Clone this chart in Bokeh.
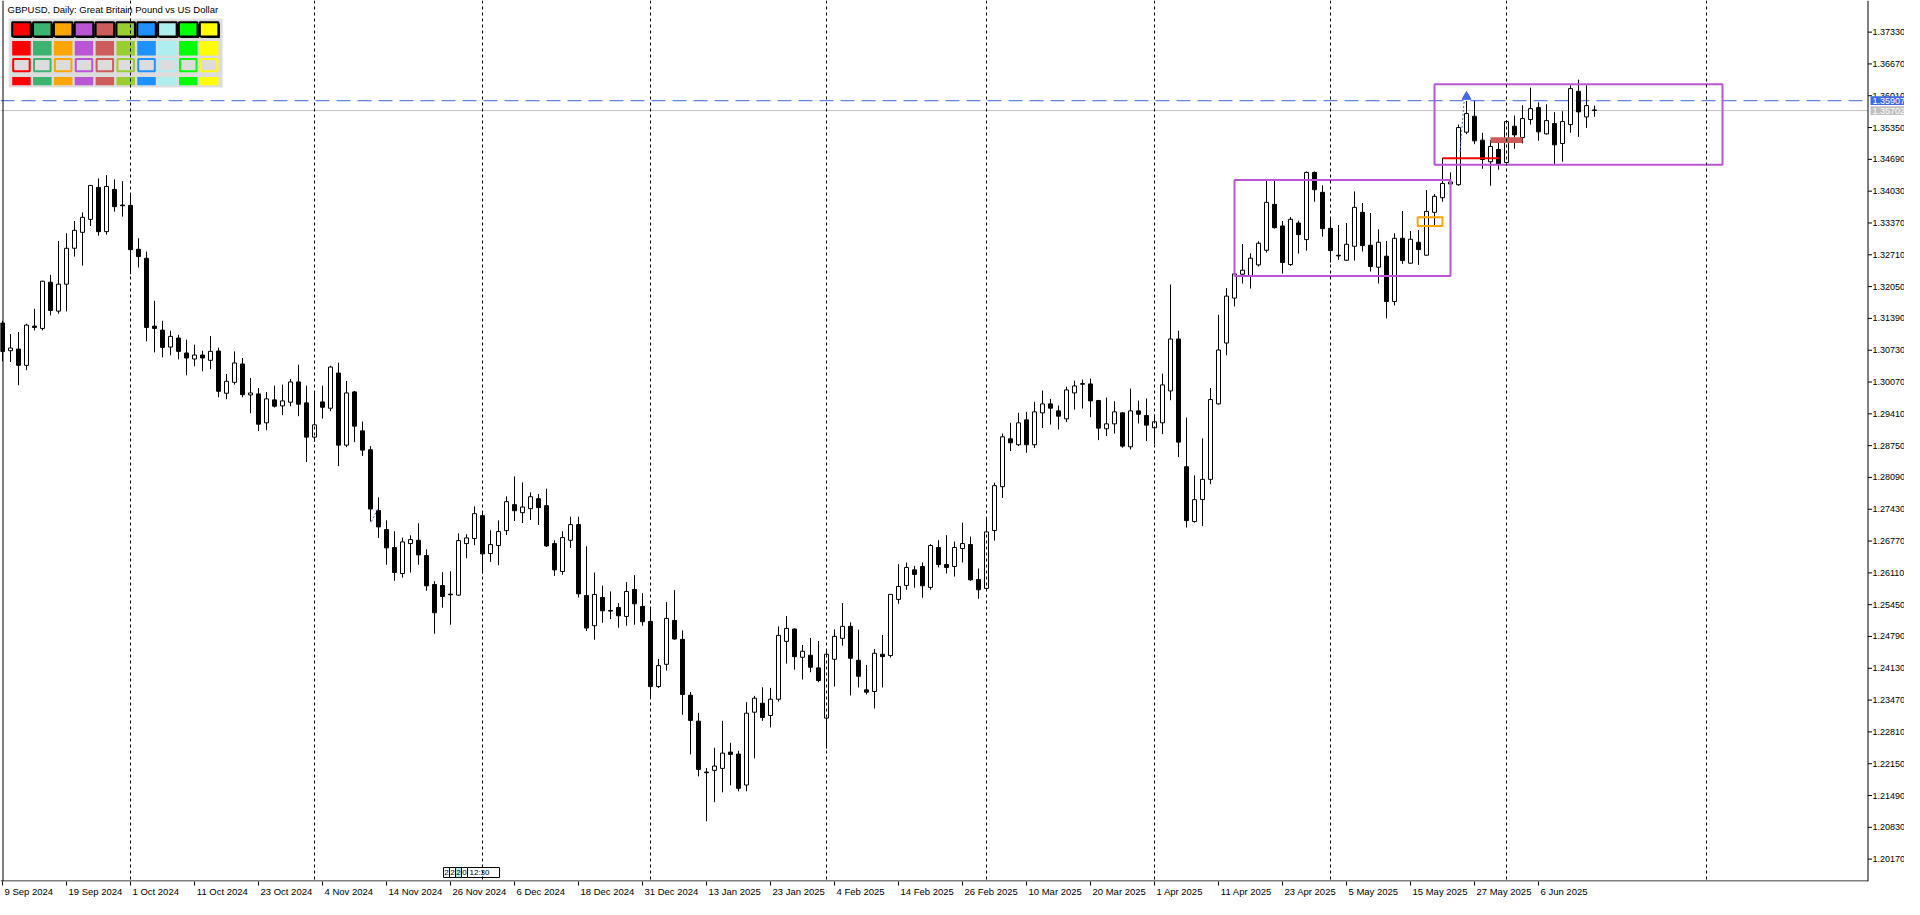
import numpy as np
from bokeh.plotting import figure
from bokeh.models import Range1d, FixedTicker, Span
from bokeh.core.properties import value
from bokeh.embed import file_html
from bokeh.resources import INLINE

FONT = "Liberation Sans"

# ---------------- data (GBPUSD daily) ----------------
opens = [1.31292,1.30720,1.30754,1.30416,1.31230,1.31182,1.32141,1.31541,1.32100,1.32845,
         1.33176,1.33445,1.34108,1.33190,1.34066,1.33742,1.33735,1.32824,1.32638,1.31230,
         1.31147,1.30796,1.30982,1.30672,1.30547,1.30630,1.30520,1.30713,1.29837,1.30064,
         1.30444,1.29802,1.29823,1.29223,1.29699,1.29575,1.29651,1.30071,1.29637,1.28926,
         1.29657,1.29526,1.30257,1.28760,1.29864,1.29057,1.28664,1.27401,1.27008,1.26635,
         1.26096,1.26717,1.26786,1.26469,1.25869,1.25848,1.25668,1.25648,1.26717,1.26821,
         1.27297,1.26510,1.26676,1.26986,1.27525,1.27359,1.27442,1.27649,1.27504,1.26717,
         1.26138,1.26786,1.27111,1.25641,1.25013,1.25599,1.25330,1.25392,1.25206,1.25765,
         1.25413,1.25103,1.23750,1.24213,1.25123,1.24730,1.23571,1.23033,1.21977,1.22012,
         1.22053,1.22391,1.22350,1.21708,1.23219,1.23405,1.23150,1.23488,1.24689,1.24944,
         1.24358,1.24400,1.24138,1.23096,1.24317,1.24752,1.25000,1.24296,1.23682,1.23648,
         1.24421,1.24393,1.25559,1.25849,1.26173,1.26242,1.25808,1.26636,1.26283,1.26242,
         1.26615,1.26698,1.25973,1.25787,1.26987,1.27898,1.28892,1.28768,1.29285,1.28768,
         1.29430,1.29616,1.29471,1.29306,1.29844,1.30023,1.30030,1.29685,1.29099,1.29202,
         1.29430,1.28726,1.29471,1.29375,1.29120,1.29223,1.29885,1.30962,1.28312,1.27174,
         1.27630,1.28050,1.29616,1.30879,1.31811,1.32307,1.32280,1.32500,1.32804,1.33756,
         1.33308,1.32507,1.33370,1.33025,1.34419,1.34005,1.33259,1.32701,1.32597,1.32887,
         1.33591,1.32908,1.32452,1.32680,1.31741,1.33052,1.32535,1.32970,1.32701,1.33591,
         1.33894,1.34180,1.34164,1.35254,1.35585,1.35088,1.34640,1.34895,1.34626,1.35378,
         1.35143,1.35516,1.35764,1.35219,1.35433,1.35019,1.35412,1.36102,1.35571,1.35716]
highs = [1.31340,1.31065,1.31106,1.31279,1.31589,1.32169,1.32293,1.32997,1.33156,1.33411,
         1.33590,1.34156,1.34294,1.34363,1.34273,1.34239,1.33963,1.33052,1.32776,1.31755,
         1.31341,1.31134,1.31051,1.30948,1.30844,1.30720,1.31023,1.30782,1.30237,1.30706,
         1.30568,1.30154,1.29947,1.29864,1.29995,1.30016,1.30133,1.30430,1.29995,1.29864,
         1.29995,1.30409,1.30471,1.30092,1.29885,1.29250,1.28740,1.27677,1.27201,1.26973,
         1.26842,1.26890,1.27138,1.26600,1.25938,1.26124,1.26145,1.26931,1.26910,1.27490,
         1.27380,1.26993,1.27200,1.27697,1.28111,1.27987,1.27780,1.27745,1.27856,1.26786,
         1.26973,1.27276,1.27276,1.26662,1.26117,1.25848,1.25724,1.25482,1.25917,1.26062,
         1.25689,1.25392,1.24323,1.25503,1.25751,1.24916,1.23640,1.23205,1.22060,1.22481,
         1.23040,1.22584,1.22419,1.23426,1.23557,1.23736,1.23723,1.24999,1.25213,1.24958,
         1.24614,1.24759,1.24697,1.24531,1.24938,1.25483,1.25083,1.24931,1.24200,1.24531,
         1.24821,1.25670,1.26290,1.26325,1.26256,1.26325,1.26705,1.26787,1.26891,1.26760,
         1.27153,1.26863,1.26201,1.27257,1.27981,1.29002,1.29223,1.29430,1.29451,1.29658,
         1.29892,1.29720,1.29582,1.29975,1.30099,1.30120,1.30141,1.29699,1.29747,1.29672,
         1.29444,1.29934,1.29685,1.29727,1.29396,1.30244,1.32093,1.31134,1.29333,1.28133,
         1.28900,1.29947,1.31465,1.32018,1.32321,1.32935,1.32742,1.32990,1.34246,1.34246,
         1.33411,1.33494,1.33418,1.34439,1.34439,1.34150,1.33466,1.33328,1.33370,1.34025,
         1.33784,1.33577,1.33239,1.32997,1.33156,1.33618,1.33204,1.33225,1.34053,1.33970,
         1.34716,1.34419,1.35412,1.35902,1.35902,1.35240,1.35088,1.35123,1.35502,1.35599,
         1.35812,1.36178,1.35875,1.35833,1.35668,1.35688,1.36227,1.36344,1.36227,1.35806]
lows = [1.30498,1.30485,1.30002,1.30313,1.31141,1.31141,1.31451,1.31486,1.31534,1.32673,
        1.32486,1.33307,1.33107,1.33128,1.33604,1.33501,1.32307,1.32445,1.30913,1.30685,
        1.30582,1.30623,1.30540,1.30209,1.30396,1.30292,1.30334,1.29754,1.29713,1.30016,
        1.29754,1.29423,1.29050,1.29071,1.29540,1.29382,1.29568,1.29361,1.28409,1.28829,
        1.29312,1.29464,1.28325,1.28719,1.28822,1.28533,1.27173,1.26835,1.26276,1.25945,
        1.26013,1.26117,1.26276,1.25738,1.24847,1.25386,1.25034,1.25634,1.26414,1.26683,
        1.26096,1.26338,1.26269,1.26897,1.27187,1.27145,1.27207,1.27104,1.26648,1.26048,
        1.26069,1.26628,1.25599,1.24903,1.24723,1.25075,1.25151,1.24972,1.25013,1.25034,
        1.25013,1.23495,1.23723,1.24082,1.24723,1.23164,1.22343,1.21887,1.20956,1.21349,
        1.21556,1.21701,1.21577,1.21577,1.22260,1.23040,1.22902,1.23440,1.24226,1.24102,
        1.23896,1.24048,1.23841,1.22461,1.23751,1.24600,1.23565,1.23731,1.23586,1.23296,
        1.23731,1.24352,1.25469,1.25759,1.25801,1.25594,1.25759,1.26222,1.26097,1.26035,
        1.26325,1.25946,1.25573,1.25773,1.26780,1.27664,1.28637,1.28740,1.28602,1.28699,
        1.29113,1.29189,1.29085,1.29237,1.29499,1.29520,1.29340,1.28864,1.28947,1.29002,
        1.28706,1.28671,1.29209,1.28844,1.28775,1.28988,1.29692,1.28512,1.27049,1.27153,
        1.27080,1.27950,1.29602,1.30624,1.31638,1.32114,1.32011,1.32466,1.32756,1.33252,
        1.32321,1.32480,1.32735,1.32797,1.33811,1.33087,1.32549,1.32604,1.32590,1.32590,
        1.32777,1.32363,1.32114,1.31390,1.31659,1.32521,1.32528,1.32500,1.32694,1.33328,
        1.33811,1.34120,1.34143,1.35212,1.35005,1.34495,1.34143,1.34474,1.34605,1.34909,
        1.35019,1.35412,1.35074,1.35205,1.34584,1.34640,1.35240,1.35157,1.35343,1.35571]
closes = [1.30705,1.30775,1.30416,1.31251,1.31203,1.32162,1.31555,1.32100,1.32845,1.33218,
          1.33487,1.34149,1.33190,1.34128,1.33708,1.33728,1.32817,1.32673,1.31203,1.31182,
          1.30789,1.31017,1.30706,1.30568,1.30630,1.30568,1.30706,1.29878,1.30085,1.30465,
          1.29809,1.29843,1.29195,1.29720,1.29568,1.29678,1.30071,1.29609,1.28926,1.29181,
          1.29547,1.30381,1.28760,1.29843,1.29154,1.28657,1.27435,1.27063,1.26629,1.26118,
          1.26752,1.26800,1.26483,1.25841,1.25282,1.25620,1.25655,1.26779,1.26835,1.27338,
          1.26503,1.26697,1.26966,1.27587,1.27400,1.27476,1.27690,1.27463,1.26669,1.26172,
          1.26842,1.27111,1.25675,1.24965,1.25662,1.25323,1.25317,1.25220,1.25724,1.25468,
          1.25096,1.23750,1.24185,1.25165,1.24737,1.23585,1.23048,1.22032,1.21963,1.22101,
          1.22370,1.22343,1.21639,1.23198,1.23509,1.23109,1.23488,1.24813,1.24958,1.24371,
          1.24483,1.24152,1.23875,1.24421,1.24793,1.25000,1.24338,1.23965,1.23634,1.24441,
          1.24372,1.25663,1.25828,1.26222,1.26077,1.25842,1.26677,1.26283,1.26222,1.26636,
          1.26718,1.25966,1.25759,1.26960,1.27919,1.28933,1.28809,1.29223,1.28768,1.29451,
          1.29616,1.29527,1.29361,1.29906,1.29989,1.30037,1.29678,1.29113,1.29202,1.29451,
          1.28740,1.29471,1.29402,1.29175,1.29244,1.30010,1.30962,1.28823,1.27194,1.27629,
          1.28050,1.29706,1.30734,1.31852,1.32314,1.32390,1.32639,1.32949,1.33798,1.33273,
          1.32549,1.33446,1.33128,1.34419,1.34060,1.33252,1.32797,1.32687,1.32928,1.33694,
          1.32901,1.32466,1.32970,1.31741,1.33052,1.32590,1.33032,1.32818,1.33611,1.33922,
          1.34191,1.34220,1.35350,1.35640,1.35074,1.34688,1.34957,1.34598,1.35474,1.35198,
          1.35536,1.35743,1.35261,1.35495,1.34991,1.35474,1.36158,1.35675,1.35806,1.35702]

date_labels = ["9 Sep 2024", "19 Sep 2024", "1 Oct 2024", "11 Oct 2024", "23 Oct 2024",
               "4 Nov 2024", "14 Nov 2024", "26 Nov 2024", "6 Dec 2024", "18 Dec 2024",
               "31 Dec 2024", "13 Jan 2025", "23 Jan 2025", "4 Feb 2025", "14 Feb 2025",
               "26 Feb 2025", "10 Mar 2025", "20 Mar 2025", "1 Apr 2025", "11 Apr 2025",
               "23 Apr 2025", "5 May 2025", "15 May 2025", "27 May 2025", "6 Jun 2025"]
label_step = 8
month_start_bars = [16, 39, 60, 81, 103, 123, 144, 166, 188, 213]
price_ticks = [1.20170, 1.20830, 1.21490, 1.22150, 1.22810, 1.23470, 1.24130, 1.24790,
               1.25450, 1.26110, 1.26770, 1.27430, 1.28090, 1.28750, 1.29410, 1.30070,
               1.30730, 1.31390, 1.32050, 1.32710, 1.33370, 1.34030, 1.34690, 1.35350,
               1.36010, 1.36670, 1.37330]

ask_price = 1.35907
bid_price = 1.35702

# analysis objects: (start bar, end bar, top price, bottom price)
range_boxes = [(154.0, 181.0, 1.34260, 1.32272), (179.0, 215.0, 1.36247, 1.34577)]
orange_box = (176.9, 180.0, 1.33488, 1.33308)
zone_box = (186.0, 190.0, 1.35150, 1.35032)
red_level = (180.0, 187.1, 1.34715)
trade_lines = [(46.1, 1.27173, 47.0, 1.27463), (182.2, 1.34848, 182.7, 1.35901)]
buy_arrow = (183.0, 1.35990)

palette = ["#FF0000", "#3CB371", "#FFA500", "#BA55D3", "#CD5C5C",
           "#9ACD32", "#1E90FF", "#AFEEEE", "#00FF00", "#FFFF00"]

# ---------------- geometry (window px -> data) ----------------
PX_PER_BAR = 8.0
PRICE_PER_PX = 0.0066 / 31.88
FIG_W, FIG_H = 1904, 899
FRAME_H = 883          # plot frame height; date axis below
AXIS_X = 1867.5        # price scale line (window px)
def dx(px):
    return (px - 2.0) / PX_PER_BAR
def dy(py):
    return 1.37330 - (py - 31.7) * PRICE_PER_PX

x0, x1 = dx(0), dx(FIG_W)
y0, y1 = dy(FRAME_H), dy(0)
xa_end = dx(AXIS_X)

p = figure(width=FIG_W, height=FIG_H, x_range=Range1d(x0, x1), y_range=Range1d(y0, y1),
           output_backend="svg", toolbar_location=None, y_axis_location=None,
           min_border_left=0, min_border_top=0, min_border_right=0,
           min_border_bottom=FIG_H - FRAME_H)
p.grid.visible = False
p.background_fill_color = "white"
p.border_fill_color = "white"
p.outline_line_color = None

n = len(opens)
idx = np.arange(n)
o = np.array(opens); c = np.array(closes); h = np.array(highs); l = np.array(lows)
inc = c >= o

# chart border (left) and month separators
p.add_layout(Span(location=dx(2.5), dimension="height", line_color="black", line_width=1))
for s in month_start_bars:
    p.add_layout(Span(location=s, dimension="height", line_color="black",
                      line_dash="3 3", line_width=1))

# bid / ask lines (up to the price scale)
p.segment(x0=[x0], y0=[bid_price], x1=[xa_end], y1=[bid_price], line_color="#C0C0C0",
          line_width=1)
p.segment(x0=[x0], y0=[ask_price], x1=[xa_end], y1=[ask_price], line_color="#4169E1",
          line_width=1, line_dash="14 7")

# candles
p.segment(x0=idx, y0=l, x1=idx, y1=h, line_color="black", line_width=1)
p.vbar(x=idx, width=0.5, top=np.maximum(o, c), bottom=np.minimum(o, c),
       fill_color=["white" if k else "black" for k in inc], line_color="black", line_width=1)

# analysis objects
for (a, b, t, bt) in range_boxes:
    p.quad(left=[a], right=[b], top=[t], bottom=[bt], fill_alpha=0,
           line_color="#BA55D3", line_width=2)
p.quad(left=[orange_box[0]], right=[orange_box[1]], top=[orange_box[2]], bottom=[orange_box[3]],
       fill_alpha=0, line_color="#FFA500", line_width=2)
p.quad(left=[zone_box[0]], right=[zone_box[1]], top=[zone_box[2]], bottom=[zone_box[3]],
       fill_color="#CD5C5C", line_color=None)
p.segment(x0=[red_level[0]], y0=[red_level[2]], x1=[red_level[1]], y1=[red_level[2]],
          line_color="#FF0000", line_width=2)
for (ax, ay, bx, by) in trade_lines:
    p.segment(x0=[ax], y0=[ay], x1=[bx], y1=[by], line_color="#4169E1", line_width=1,
              line_dash="2 2")
p.scatter(x=[buy_arrow[0]], y=[buy_arrow[1]], marker="triangle", size=9,
          fill_color="#4169E1", line_color="#4169E1")

# ---------------- price scale (right, drawn on the y scale) ----------------
p.quad(left=[xa_end], right=[x1], top=[y1], bottom=[y0], fill_color="white", line_color=None)
p.segment(x0=[xa_end], y0=[y0], x1=[xa_end], y1=[y1], line_color="black", line_width=1)
p.segment(x0=[xa_end] * len(price_ticks), y0=price_ticks, x1=[dx(AXIS_X + 4)] * len(price_ticks),
          y1=price_ticks, line_color="black", line_width=1)
p.text(x=[dx(AXIS_X + 4.5)] * len(price_ticks), y=price_ticks,
       text=[f"{v:.5f}" for v in price_ticks], text_font=value(FONT), text_font_size="9px",
       text_baseline="middle", text_align="left", text_color="black")
# current ask / bid price tags
tag_h = 4.4 * PRICE_PER_PX
tag_prices = [ask_price, bid_price]
tag_colors = ["#4169E1", "#C0C0C0"]
p.quad(left=[dx(AXIS_X + 2.5)] * 2, right=[x1] * 2, top=[v + tag_h for v in tag_prices],
       bottom=[v - tag_h for v in tag_prices], fill_color=tag_colors, line_color=None)
p.text(x=[dx(AXIS_X + 4.5)] * 2, y=tag_prices, text=[f"{v:.5f}" for v in tag_prices],
       text_font=value(FONT), text_font_size="9px", text_baseline="middle",
       text_align="left", text_color="white")
# bottom axis line up to the price scale
p.segment(x0=[x0], y0=[dy(FRAME_H - 0.5)], x1=[xa_end], y1=[dy(FRAME_H - 0.5)],
          line_color="black", line_width=1)

# ---------------- date axis ----------------
CW = {" ": .278, "S": .667, "O": .778, "N": .722, "D": .722, "J": .5, "F": .611, "M": .833,
      "A": .667, "e": .556, "p": .556, "c": .5, "t": .278, "o": .556, "v": .5, "a": .556,
      "n": .556, "b": .556, "r": .333, "y": .5, "u": .556}
LBL_PX = 9.5
def text_w(s):
    return sum(CW.get(ch, .556) for ch in s) * LBL_PX
tick_pos = [i * label_step for i in range(len(date_labels))]
lab_pos = [t + (text_w(s) / 2 + 2) / PX_PER_BAR for t, s in zip(tick_pos, date_labels)]
xa = p.xaxis[0]
xa.ticker = FixedTicker(ticks=lab_pos, minor_ticks=tick_pos)
xa.major_label_overrides = {pos: s for pos, s in zip(lab_pos, date_labels)}
xa.major_tick_line_color = None
xa.major_tick_in = 0
xa.major_tick_out = 4
xa.minor_tick_line_color = "black"
xa.minor_tick_in = 0
xa.minor_tick_out = 4
xa.major_label_standoff = 0
xa.major_label_text_font = FONT
xa.major_label_text_font_size = f"{LBL_PX}px"
xa.major_label_text_color = "black"
xa.axis_line_color = None

# ---------------- title ----------------
p.text(x=[dx(7)], y=[dy(9.5)], text=["GBPUSD, Daily:  Great Britain Pound vs US Dollar"],
       text_font=value(FONT), text_font_size="9.5px", text_baseline="middle",
       text_align="left", text_color="black")

# ---------------- colour palette panel ----------------
p.quad(left=[dx(8.3)], right=[dx(222.3)], top=[dy(18.3)], bottom=[dy(87.3)],
       fill_color="#DCDCDC", line_color="#F0F0F0", line_width=1)
cx = [11.7 + 20.85 * k for k in range(len(palette))]
cw = 18.5
p.quad(left=[dx(x + 1.5) for x in cx], right=[dx(x + cw + 1.5) for x in cx],
       top=[dy(23.2)] * 10, bottom=[dy(37.5)] * 10, fill_color="black", line_color=None)
p.quad(left=[dx(x) for x in cx], right=[dx(x + cw) for x in cx],
       top=[dy(21.7)] * 10, bottom=[dy(36.0)] * 10, fill_color=palette,
       line_color="black", line_width=2)
p.quad(left=[dx(x) for x in cx], right=[dx(x + cw) for x in cx],
       top=[dy(40.7)] * 10, bottom=[dy(55.0)] * 10, fill_color=palette, line_color=None)
p.quad(left=[dx(x + 1) for x in cx], right=[dx(x + cw - 1) for x in cx],
       top=[dy(58.7)] * 10, bottom=[dy(71.0)] * 10, fill_color="#DCDCDC",
       line_color=palette, line_width=2)
p.quad(left=[dx(x) for x in cx], right=[dx(x + cw) for x in cx],
       top=[dy(76.7)] * 10, bottom=[dy(85.0)] * 10, fill_color=palette, line_color=None)

# ---------------- time box widget on the date axis ----------------
wb = FRAME_H - 4
wx = [443, 449, 455, 461]
wt = ["2", "2", "2", "0"]
p.quad(left=[dx(x) for x in wx], right=[dx(x + 6) for x in wx], top=[dy(wb - 10)] * 4,
       bottom=[dy(wb)] * 4, fill_color=["white", "white", "#AFEEEE", "white"],
       line_color="black", line_width=1)
p.text(x=[dx(x + 3) for x in wx], y=[dy(wb - 5)] * 4, text=wt, text_font=value(FONT),
       text_font_size="8px", text_baseline="middle", text_align="center")
p.quad(left=[dx(467)], right=[dx(499)], top=[dy(wb - 10)], bottom=[dy(wb)],
       fill_color="white", line_color="black", line_width=1)
p.text(x=[dx(469)], y=[dy(wb - 5)], text=["12:30"], text_font=value(FONT),
       text_font_size="8px", text_baseline="middle", text_align="left")

open("out.html", "w").write(file_html(p, INLINE))
